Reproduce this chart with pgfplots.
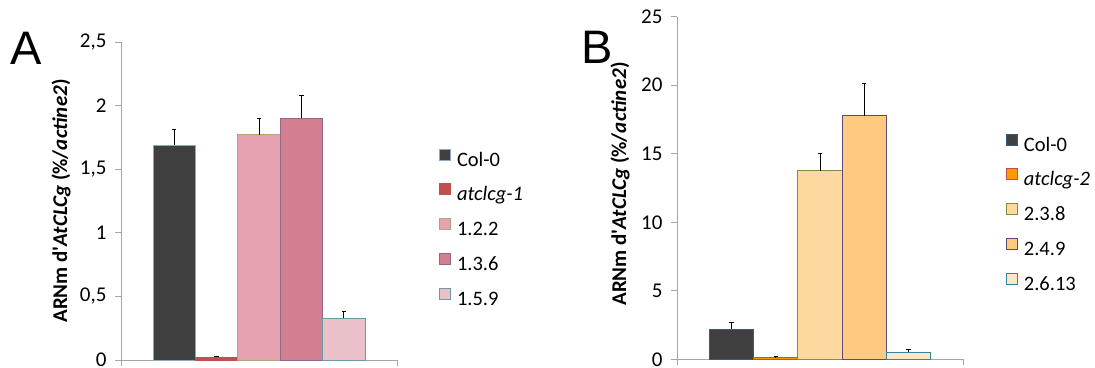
\documentclass[border=0pt]{standalone}
\usepackage{pgfplots}
\pgfplotsset{compat=1.18}
\usepackage{fontspec}
\setmainfont{Carlito}
\newfontfamily\panelfont{Liberation Sans}
\definecolor{cCol}{HTML}{404040}
\definecolor{cColbA}{HTML}{8EA9C8}
\definecolor{cA2}{HTML}{C0504D}
\definecolor{cA3}{HTML}{E6A2B0}
\definecolor{cA3b}{HTML}{A8A878}
\definecolor{cA4}{HTML}{D27F8F}
\definecolor{cA4b}{HTML}{94648A}
\definecolor{cA5}{HTML}{EBC1C9}
\definecolor{cA5b}{HTML}{6A9AAA}
\definecolor{cColbB}{HTML}{3A5A80}
\definecolor{cB2}{HTML}{FF9900}
\definecolor{cB2b}{HTML}{C0504D}
\definecolor{cB3}{HTML}{FFD8A0}
\definecolor{cB3b}{HTML}{77933C}
\definecolor{cB4}{HTML}{FFCA80}
\definecolor{cB4b}{HTML}{5F497A}
\definecolor{cB5}{HTML}{FFE6C6}
\definecolor{cB5b}{HTML}{31859C}
\definecolor{axgray}{HTML}{A6A6A6}
\pgfplotsset{
  sqleg/.style={legend image code/.code={\draw[##1,line width=1pt] (0.5pt,1pt) rectangle (11.5pt,12pt);}},
  mybars/.style={
    scale only axis,
    axis x line=bottom, axis y line=left,
    axis line style={-, draw=axgray, line width=0.8pt},
    tick style={draw=axgray, line width=0.8pt},
    tick align=outside, major tick length=6pt,
    ymin=0,
    xticklabels={},
    /pgf/number format/assume math mode=true,
    /pgf/number format/use comma,
    tick label style={font=\fontsize{21}{24}\selectfont},
    yticklabel style={xshift=-5pt},
    error bars/error bar style={black, line width=0.8pt},
    error bars/error mark options={rotate=90, mark size=2.2pt, black, line width=0.8pt},
    legend style={draw=none, fill=none, inner sep=0pt, outer sep=0pt, anchor=north west,
      row sep=13.3pt, column sep=6pt,
      nodes={inner sep=0pt, text height=14pt, text depth=4pt, font=\fontsize{20.5}{22}\selectfont}},
    legend cell align=left,
  },
  bb/.style={ybar, bar width=1, bar shift=0pt, line width=0.9pt, sqleg},
}
\newcommand{\ylab}{ARNm d\textquotesingle\textit{AtCLCg} (\%/\textit{actine2})}
\begin{document}
\begin{tikzpicture}
\useasboundingbox (0,0) rectangle (1095pt,367pt);
% Panel A
\begin{axis}[mybars,
  at={(121pt,7pt)}, anchor=south west,
  width=276pt, height=318pt,
  xmin=-0.255, xmax=6.255, ymax=2.5,
  xtick={-0.255,6.255},
  ytick={0,0.5,1,1.5,2,2.5},
  legend style={at={(1.1522,0.665)}},
]
\addplot[bb, fill=cCol, draw=cColbA, error bars/.cd, y dir=plus, y explicit] coordinates {(1,1.69) +- (0,0.12)};
\addlegendentry{Col-0}
\addplot[bb, fill=cA2, draw=cA2, error bars/.cd, y dir=plus, y explicit] coordinates {(2,0.02) +- (0,0.01)};
\addlegendentry{\textit{atclcg-1}}
\addplot[bb, fill=cA3, draw=cA3b, error bars/.cd, y dir=plus, y explicit] coordinates {(3,1.77) +- (0,0.13)};
\addlegendentry{1.2.2}
\addplot[bb, fill=cA4, draw=cA4b, error bars/.cd, y dir=plus, y explicit] coordinates {(4,1.90) +- (0,0.18)};
\addlegendentry{1.3.6}
\addplot[bb, fill=cA5, draw=cA5b, error bars/.cd, y dir=plus, y explicit] coordinates {(5,0.33) +- (0,0.05)};
\addlegendentry{1.5.9}
\end{axis}
% Panel B
\begin{axis}[mybars,
  at={(677pt,7.7pt)}, anchor=south west,
  width=286pt, height=342.6pt,
  xmin=-0.235, xmax=6.235, ymax=25,
  xtick={-0.235,6.235},
  ytick={0,5,10,15,20,25},
  legend style={at={(1.150,0.659)}},
]
\addplot[bb, fill=cCol, draw=cColbB, error bars/.cd, y dir=plus, y explicit] coordinates {(1,2.19) +- (0,0.48)};
\addlegendentry{Col-0}
\addplot[bb, fill=cB2, draw=cB2b, error bars/.cd, y dir=plus, y explicit] coordinates {(2,0.15) +- (0,0.05)};
\addlegendentry{\textit{atclcg-2}}
\addplot[bb, fill=cB3, draw=cB3b, error bars/.cd, y dir=plus, y explicit] coordinates {(3,13.77) +- (0,1.27)};
\addlegendentry{2.3.8}
\addplot[bb, fill=cB4, draw=cB4b, error bars/.cd, y dir=plus, y explicit] coordinates {(4,17.76) +- (0,2.36)};
\addlegendentry{2.4.9}
\addplot[bb, fill=cB5, draw=cB5b, error bars/.cd, y dir=plus, y explicit] coordinates {(5,0.51) +- (0,0.22)};
\addlegendentry{2.6.13}
\end{axis}
\node[rotate=90, font=\bfseries\fontsize{21}{24}\selectfont] at (61pt,166pt) {\ylab};
\node[rotate=90, font=\bfseries\fontsize{21}{24}\selectfont] at (620pt,183pt) {\ylab};
\node[font=\panelfont\fontsize{47}{50}\selectfont] at (26pt,319pt) {A};
\node[font=\panelfont\fontsize{47}{50}\selectfont] at (597pt,320pt) {B};
\end{tikzpicture}
\end{document}
